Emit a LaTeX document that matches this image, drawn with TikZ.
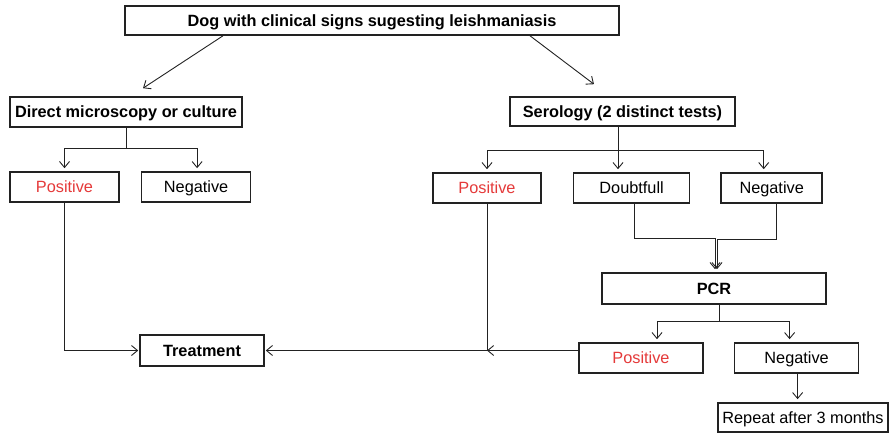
\documentclass[tikz,border=0pt]{standalone}
\usepackage{fontspec}
\setmainfont{Liberation Sans}
\usetikzlibrary{
  arrows.meta,
  positioning,
  calc
}
\definecolor{lsred}{HTML}{E53A3A}
\definecolor{lsline}{HTML}{222222}

\begin{document}
\begin{tikzpicture}[
      x=1pt, y=-1pt,
      box/.style={
        rectangle, draw=lsline, line width=1.6pt, fill=white,
        minimum height=30pt, inner sep=0pt,
        text height=12pt, text depth=0.5pt,
        font=\fontsize{16.3}{18}\selectfont, align=center
      },
      head/.style={box, font=\fontsize{16.3}{18}\selectfont\bfseries},
      posbox/.style={box, text=lsred},
      arrow/.style={-{Straight Barb[length=6pt,width=10pt]}, line width=0.9pt, lsline, shorten >=3pt}
    ]
      \useasboundingbox (0,0) rectangle (889,433);

      % Boxes
      \node[head, minimum width=494pt, minimum height=29pt] (dog) at (372,20.5) {Dog with clinical signs sugesting leishmaniasis};
      \node[head, minimum width=232pt] (direct) at (126,112) {Direct microscopy or culture};
      \node[head, minimum width=225pt, minimum height=29pt] (sero) at (622.5,111.5) {Serology (2 distinct tests)};

      \node[posbox, minimum width=109pt] (pos1) at (64.5,187) {Positive};
      \node[box, minimum width=109pt, right=21pt of pos1] (neg1) {Negative};

      \node[posbox, minimum width=108pt] (pos2) at (487,188) {Positive};
      \node[box, minimum width=116pt, right=31pt of pos2] (doubt) {Doubtfull};
      \node[box, minimum width=101pt, right=30pt of doubt] (neg2) {Negative};

      \node[head, minimum width=224pt, minimum height=31pt] (pcr) at (714,288.5) {PCR};
      \node[head, minimum width=124pt, minimum height=31pt] (treat) at (202,350.5) {Treatment};

      \node[posbox, minimum width=124pt] (pos3) at (641,358) {Positive};
      \node[box, minimum width=124pt, right=30pt of pos3] (neg3) {Negative};
      \node[box, minimum width=170pt, minimum height=29pt] (repeat) at (803,417.5) {Repeat after 3 months};

      % Arrows from the top
      \draw[arrow, shorten >=0pt] ([xshift=-149pt]dog.south) -- ([xshift=17pt,yshift=8pt]direct.north);
      \draw[arrow, shorten >=0pt] ([xshift=158pt]dog.south) -- ([xshift=-28.5pt,yshift=12pt]sero.north);

      % Direct microscopy
      \draw[arrow] (direct.south) -- ++(0,21) -| (pos1.north);
      \draw[arrow] (direct.south) -- ++(0,21) -| ([xshift=1pt]neg1.north);

      % Serology
      \draw[arrow] ([xshift=-4.5pt]sero.south) -- ++(0,24) -| (pos2.north);
      \draw[arrow] ([xshift=-4.5pt]sero.south) -- ([xshift=-4.5pt]sero.south |- doubt.north);
      \draw[arrow] ([xshift=-4.5pt]sero.south) -- ++(0,24) -| ([xshift=-8pt]neg2.north);

      % Towards PCR
      \draw[arrow] ([xshift=3pt]doubt.south) -- ++(0,35) -| ([xshift=1pt]pcr.north);
      \draw[arrow] ([xshift=5pt]neg2.south) -- ++(0,36) -| ([xshift=3pt]pcr.north);

      % PCR results
      \draw[arrow] ([xshift=5pt]pcr.south) -- ++(0,17) -| ([xshift=16pt]pos3.north);
      \draw[arrow] ([xshift=5pt]pcr.south) -- ++(0,17) -| ([xshift=-7pt]neg3.north);
      \draw[arrow] ([xshift=1pt]neg3.south) -- ([xshift=1pt]neg3.south |- repeat.north);

      % Treatment
      \draw[arrow, shorten >=1pt] (pos1.south) |- (treat.west);
      \draw[arrow, shorten >=0pt] (pos3.west |- treat.east) -- (pos2.south |- treat.east);
      \draw[arrow, shorten >=1pt] (pos2.south) |- (treat.east);
    \end{tikzpicture}
\end{document}
